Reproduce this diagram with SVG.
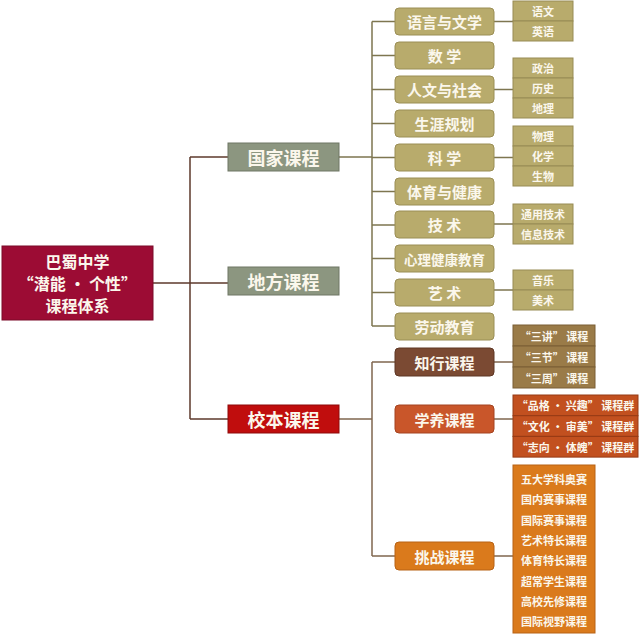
<svg xmlns="http://www.w3.org/2000/svg" width="640" height="636" viewBox="0 0 640 636">
<style>
text{font-family:"Noto Sans CJK SC","Noto Sans",sans-serif;font-weight:bold;fill:#fbf7ec;text-anchor:middle;dominant-baseline:central}
.root{fill:#9c0c34;stroke:#7a0a28;stroke-width:1}
.l1{fill:#8c9680;stroke:#6e7664;stroke-width:1}
.l1r{fill:#c00d0d;stroke:#8e0a0a;stroke-width:1}
.n2{fill:#b8ab6c;stroke:#9a8e55;stroke-width:1}
.n3{fill:#b8ab6c;stroke:#978b54;stroke-width:1}
.zx{fill:#7b4a33;stroke:#5e3624;stroke-width:1}
.zx3{fill:#9a7b48;stroke:#7a5f35;stroke-width:1}
.xy{fill:#c9562a;stroke:#a44320;stroke-width:1}
.xy3{fill:#c2501f;stroke:#963a14;stroke-width:1}
.tz{fill:#da7a1c;stroke:#b86214;stroke-width:1}
.t0{font-size:16px}
.t1{font-size:18px}
.t2{font-size:15px}
.t3{font-size:11px}
.c0{stroke:#5e3a2c;stroke-width:1.5;fill:none}
.cn{stroke:#7e7650;stroke-width:1.5;fill:none}
.cs{stroke:#80674f;stroke-width:1.5;fill:none}
</style>
<rect width="640" height="636" fill="#ffffff"/>
<g id="connectors">
<path class="c0" d="M153 283H228M190 157V419M190 157H228M190 419H228"/>
<path class="cn" d="M339 157H372M372 21.5V326M372 21.5H395M372 55.5H395M372 89.5H395M372 123.5H395M372 157.5H395M372 191.5H395M372 225H395M372 258.5H395M372 292.5H395M372 326H395"/>
<path class="cn" d="M494 21.5H513M494 89.5H513M494 157.5H513M494 224H513M494 290H513"/>
<path class="cs" d="M339 419H372M372 362V556M372 362H395M372 556H395M494 362H513M494 419H513M494 556H513"/>
</g>
<g id="root">
<rect class="root" x="2" y="246" width="151" height="74"/>
<text class="t0" x="77.5" y="261">巴蜀中学</text>
<text class="t0" x="77.5" y="283">“潜能 · 个性”</text>
<text class="t0" x="77.5" y="305">课程体系</text>
</g>
<g id="guojia"><rect class="l1" x="228" y="143" width="111" height="28"/><text class="t1" x="283.5" y="157">国家课程</text></g>
<g id="difang"><rect class="l1" x="228" y="267" width="111" height="28"/><text class="t1" x="283.5" y="281">地方课程</text></g>
<g id="xiaoben"><rect class="l1r" x="228" y="405" width="111" height="28"/><text class="t1" x="283.5" y="419">校本课程</text></g>
<g id="n-yuyan"><rect class="n2" x="395" y="8" width="99" height="27" rx="4"/><text class="t2" x="444.5" y="21.5">语言与文学</text></g>
<g id="n-shuxue"><rect class="n2" x="395" y="42" width="99" height="27" rx="4"/><text class="t2" x="444.5" y="55.5">数 学</text></g>
<g id="n-renwen"><rect class="n2" x="395" y="76" width="99" height="27" rx="4"/><text class="t2" x="444.5" y="89.5">人文与社会</text></g>
<g id="n-shengya"><rect class="n2" x="395" y="110" width="99" height="27" rx="4"/><text class="t2" x="444.5" y="123.5">生涯规划</text></g>
<g id="n-kexue"><rect class="n2" x="395" y="144" width="99" height="27" rx="4"/><text class="t2" x="444.5" y="157.5">科 学</text></g>
<g id="n-tiyu"><rect class="n2" x="395" y="178" width="99" height="27" rx="4"/><text class="t2" x="444.5" y="191.5">体育与健康</text></g>
<g id="n-jishu"><rect class="n2" x="395" y="211" width="99" height="27" rx="4"/><text class="t2" x="444.5" y="224.5">技 术</text></g>
<g id="n-xinli"><rect class="n2" x="395" y="245" width="99" height="27" rx="4"/><text class="t2" x="444.5" y="258.5" style="font-size:13.5px">心理健康教育</text></g>
<g id="n-yishu"><rect class="n2" x="395" y="279" width="99" height="27" rx="4"/><text class="t2" x="444.5" y="292.5">艺 术</text></g>
<g id="n-laodong"><rect class="n2" x="395" y="313" width="99" height="27" rx="4"/><text class="t2" x="444.5" y="326.5">劳动教育</text></g>
<g id="g-yuyan"><rect class="n3" x="513" y="1" width="60" height="20"/><rect class="n3" x="513" y="21" width="60" height="20"/><text class="t3" x="543" y="11">语文</text><text class="t3" x="543" y="31">英语</text></g>
<g id="g-renwen"><rect class="n3" x="513" y="58" width="60" height="20"/><rect class="n3" x="513" y="78" width="60" height="20"/><rect class="n3" x="513" y="98" width="60" height="20"/><text class="t3" x="543" y="68">政治</text><text class="t3" x="543" y="88">历史</text><text class="t3" x="543" y="108">地理</text></g>
<g id="g-kexue"><rect class="n3" x="513" y="126" width="60" height="20"/><rect class="n3" x="513" y="146" width="60" height="20"/><rect class="n3" x="513" y="166" width="60" height="20"/><text class="t3" x="543" y="136">物理</text><text class="t3" x="543" y="156">化学</text><text class="t3" x="543" y="176">生物</text></g>
<g id="g-jishu"><rect class="n3" x="513" y="204" width="60" height="20"/><rect class="n3" x="513" y="224" width="60" height="20"/><text class="t3" x="543" y="214">通用技术</text><text class="t3" x="543" y="234">信息技术</text></g>
<g id="g-yishu"><rect class="n3" x="513" y="270" width="60" height="20"/><rect class="n3" x="513" y="290" width="60" height="20"/><text class="t3" x="543" y="280">音乐</text><text class="t3" x="543" y="300">美术</text></g>
<g id="s-zhixing"><rect class="zx" x="395" y="348" width="99" height="28" rx="4"/><text class="t2" x="444.5" y="362">知行课程</text></g>
<g id="s-xueyang"><rect class="xy" x="395" y="405" width="99" height="28" rx="4"/><text class="t2" x="444.5" y="419">学养课程</text></g>
<g id="s-tiaozhan"><rect class="tz" x="395" y="542" width="99" height="28" rx="4"/><text class="t2" x="444.5" y="556">挑战课程</text></g>
<g id="g-zhixing"><rect class="zx3" x="513" y="325" width="82" height="21"/><rect class="zx3" x="513" y="346" width="82" height="21"/><rect class="zx3" x="513" y="367" width="82" height="21"/><text class="t3" x="554" y="335.5">“三讲” 课程</text><text class="t3" x="554" y="356.5">“三节” 课程</text><text class="t3" x="554" y="377.5">“三周” 课程</text></g>
<g id="g-xueyang"><rect class="xy3" x="513" y="395" width="125" height="20.7"/><rect class="xy3" x="513" y="415.7" width="125" height="20.7"/><rect class="xy3" x="513" y="436.4" width="125" height="20.7"/><text class="t3" x="575.5" y="405.3">“品格 · 兴趣” 课程群</text><text class="t3" x="575.5" y="426">“文化 · 审美” 课程群</text><text class="t3" x="575.5" y="446.7">“志向 · 体魄” 课程群</text></g>
<g id="g-tiaozhan"><rect class="tz" x="513" y="465" width="82" height="168"/>
<text class="t3" x="554" y="479">五大学科奥赛</text><text class="t3" x="554" y="499">国内赛事课程</text><text class="t3" x="554" y="519.5">国际赛事课程</text><text class="t3" x="554" y="540">艺术特长课程</text><text class="t3" x="554" y="560">体育特长课程</text><text class="t3" x="554" y="580.5">超常学生课程</text><text class="t3" x="554" y="600.5">高校先修课程</text><text class="t3" x="554" y="621">国际视野课程</text></g>
</svg>
